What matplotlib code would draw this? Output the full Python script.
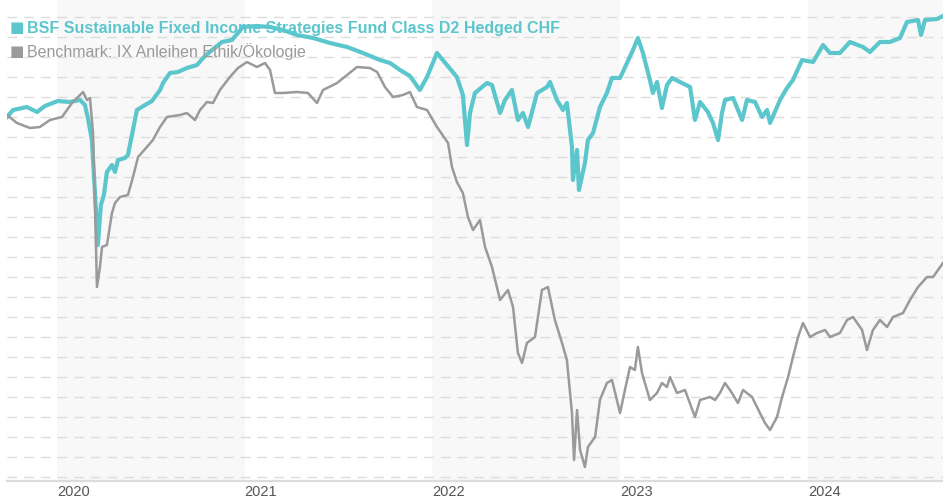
import matplotlib
matplotlib.use("Agg")
import matplotlib.pyplot as plt
from matplotlib.ticker import MultipleLocator

# fund (teal) - decimal year / indexed value
fund_t = [2019.734, 2019.766, 2019.840, 2019.894, 2019.936, 2020.005, 2020.069, 2020.123,
          2020.149, 2020.165, 2020.186, 2020.197, 2020.218, 2020.234, 2020.250, 2020.266,
          2020.293, 2020.309, 2020.325, 2020.362, 2020.378, 2020.405, 2020.426, 2020.469,
          2020.506, 2020.549, 2020.565, 2020.602, 2020.644, 2020.692, 2020.746, 2020.778,
          2020.826, 2020.879, 2020.932, 2020.991, 2021.065, 2021.135, 2021.204, 2021.278,
          2021.364, 2021.454, 2021.545, 2021.630, 2021.720, 2021.774, 2021.827, 2021.880,
          2021.933, 2021.971,
          2022.024, 2022.077, 2022.130, 2022.162, 2022.184, 2022.200, 2022.226, 2022.290,
          2022.317, 2022.360, 2022.386, 2022.423, 2022.455, 2022.482, 2022.509, 2022.557,
          2022.610, 2022.626, 2022.663, 2022.695, 2022.716, 2022.743, 2022.748, 2022.770,
          2022.780, 2022.812, 2022.828, 2022.855, 2022.892, 2022.929, 2022.956, 2022.999,
          2023.036, 2023.068, 2023.094, 2023.121, 2023.158, 2023.174, 2023.196, 2023.222,
          2023.249, 2023.276, 2023.318, 2023.372, 2023.398, 2023.425, 2023.467, 2023.494,
          2023.521, 2023.542, 2023.558, 2023.601, 2023.649, 2023.675, 2023.718, 2023.755,
          2023.782, 2023.798, 2023.851, 2023.888, 2023.920, 2023.968, 2024.027, 2024.080,
          2024.117, 2024.170, 2024.223, 2024.293, 2024.330, 2024.383, 2024.437, 2024.490,
          2024.527, 2024.586, 2024.602, 2024.623, 2024.687, 2024.719]
fund_v = [94.99, 95.34, 95.49, 95.24, 95.54, 95.79, 95.74, 95.84,
          95.59, 94.94, 93.84, 92.09, 88.59, 90.59, 91.09, 92.24,
          92.59, 92.24, 92.84, 92.94, 93.09, 94.34, 95.34, 95.59,
          95.79, 96.34, 96.69, 97.19, 97.24, 97.44, 97.59, 97.94,
          98.34, 98.74, 98.84, 99.49, 99.54, 99.49, 99.34, 99.09,
          98.94, 98.69, 98.49, 98.19, 97.84, 97.69, 97.34, 97.04,
          96.34, 96.99,
          98.19, 97.59, 96.99, 96.09, 93.59, 95.19, 96.19, 96.69,
          96.59, 95.19, 95.84, 96.34, 94.84, 95.19, 94.49, 96.19,
          96.49, 96.74, 95.84, 95.34, 95.69, 93.49, 91.84, 93.34,
          91.34, 92.69, 93.84, 94.19, 95.49, 96.19, 96.94, 96.94,
          97.69, 98.34, 98.94, 98.19, 96.84, 96.19, 96.74, 95.44,
          96.59, 96.94, 96.74, 96.49, 94.84, 95.74, 95.24, 94.69,
          93.84, 95.19, 95.84, 95.94, 94.84, 95.84, 95.74, 94.99,
          95.34, 94.69, 95.84, 96.44, 96.84, 97.84, 97.74, 98.59,
          98.19, 98.19, 98.74, 98.49, 98.24, 98.74, 98.74, 98.94,
          99.74, 99.84, 99.09, 99.84, 99.89, 100.04]

# benchmark (grey)
bench_t = [2019.734, 2019.787, 2019.856, 2019.909, 2019.963, 2020.027, 2020.080, 2020.139,
           2020.160, 2020.176, 2020.192, 2020.202, 2020.213, 2020.229, 2020.240, 2020.266,
           2020.293, 2020.309, 2020.336, 2020.378, 2020.405, 2020.432, 2020.479, 2020.511,
           2020.549, 2020.586, 2020.655, 2020.692, 2020.735, 2020.762, 2020.799, 2020.831,
           2020.868, 2020.921, 2020.964, 2021.012, 2021.065, 2021.108, 2021.135, 2021.161,
           2021.204, 2021.278, 2021.337, 2021.385, 2021.417, 2021.492, 2021.545, 2021.598,
           2021.667, 2021.705, 2021.747, 2021.790, 2021.843, 2021.880, 2021.917, 2021.971,
           2022.024, 2022.083, 2022.104, 2022.130, 2022.162, 2022.189, 2022.216, 2022.253,
           2022.280, 2022.317, 2022.360, 2022.402, 2022.429, 2022.455, 2022.477, 2022.503,
           2022.546, 2022.583, 2022.615, 2022.652, 2022.690, 2022.716, 2022.743, 2022.754,
           2022.770, 2022.786, 2022.812, 2022.828, 2022.866, 2022.892, 2022.929, 2022.956,
           2022.999, 2023.025, 2023.052, 2023.078, 2023.094, 2023.116, 2023.158, 2023.196,
           2023.222, 2023.249, 2023.265, 2023.302, 2023.345, 2023.398, 2023.425, 2023.478,
           2023.505, 2023.531, 2023.558, 2023.595, 2023.627, 2023.654, 2023.702, 2023.744,
           2023.771, 2023.798, 2023.835, 2023.862, 2023.894, 2023.920, 2023.947, 2023.973,
           2024.011, 2024.048, 2024.091, 2024.117, 2024.170, 2024.208, 2024.240, 2024.288,
           2024.314, 2024.346, 2024.383, 2024.421, 2024.453, 2024.506, 2024.543, 2024.586,
           2024.634, 2024.666, 2024.719]
bench_v = [95.09, 94.69, 94.44, 94.49, 94.84, 94.99, 95.69, 96.24,
           95.84, 95.94, 94.19, 90.84, 86.49, 87.49, 88.49, 88.59,
           90.19, 90.69, 90.99, 91.09, 91.99, 92.99, 93.49, 93.84,
           94.49, 94.99, 95.09, 95.19, 94.84, 95.34, 95.74, 95.69,
           96.34, 96.99, 97.44, 97.74, 97.49, 97.69, 97.34, 96.19,
           96.19, 96.24, 96.19, 95.69, 96.34, 96.69, 97.09, 97.49,
           97.44, 97.24, 96.49, 95.99, 96.09, 96.24, 95.49, 95.34,
           94.49, 93.69, 92.49, 91.74, 91.19, 89.99, 89.34, 89.84,
           88.49, 87.49, 85.84, 86.34, 85.49, 83.19, 82.69, 83.69,
           83.99, 86.34, 86.49, 84.84, 83.69, 82.84, 80.19, 77.84,
           80.34, 78.34, 77.49, 78.49, 78.99, 80.84, 81.69, 81.84,
           80.19, 81.34, 82.49, 82.34, 83.49, 82.19, 80.84, 81.19,
           81.69, 81.49, 81.99, 81.19, 81.34, 79.99, 80.84, 80.99,
           80.84, 81.19, 81.69, 81.19, 80.69, 81.34, 80.99, 80.19,
           79.69, 79.34, 79.99, 80.99, 81.99, 82.99, 83.99, 84.69,
           83.99, 84.19, 84.34, 83.99, 84.19, 84.84, 84.99, 84.34,
           83.34, 84.34, 84.84, 84.49, 84.99, 85.19, 85.84, 86.49,
           86.99, 86.99, 87.69]

years = [2020, 2021, 2022, 2023, 2024]
shaded_years = [2020, 2022, 2024]

fund_name = "BSF Sustainable Fixed Income Strategies Fund Class D2 Hedged CHF"
bench_name = "Benchmark: IX Anleihen Ethik/Ökologie"

TEAL = "#5cc6cd"
GREY = "#9a9a9a"

plt.rcParams['font.family'] = ['Liberation Sans', 'DejaVu Sans']

fig = plt.figure(figsize=(9.43, 5.0), dpi=100)
ax = fig.add_axes([7 / 943, 19 / 500, 936 / 943, 481 / 500])

x0, x1 = fund_t[0], fund_t[-1]
ax.set_xlim(x0, x1)
ax.set_ylim(76.79, 100.84)

# alternating year shading
for yr in shaded_years:
    ax.axvspan(yr, min(yr + 1, x1), color="#f8f8f8", zorder=0, lw=0)

ax.yaxis.set_major_locator(MultipleLocator(1))
ax.grid(axis='y', color="#dddddd", linestyle=(0, (7, 5)), linewidth=1.0, zorder=1)
ax.set_axisbelow(True)

ax.plot(fund_t, fund_v, color=TEAL, lw=3.0, zorder=3)
ax.plot(bench_t, bench_v, color=GREY, lw=1.8, zorder=4)

for s in ['top', 'right', 'left']:
    ax.spines[s].set_visible(False)
ax.spines['bottom'].set_color("#dcdcdc")
ax.spines['bottom'].set_linewidth(1.6)

ax.set_yticks(range(77, 101))
ax.tick_params(axis='y', left=False, labelleft=False)
ax.set_xticks(years)
ax.set_xticklabels([str(y) for y in years], fontsize=10.5, color="#555555")
for lbl in ax.get_xticklabels():
    lbl.set_horizontalalignment('left')
ax.tick_params(axis='x', length=0, pad=3)

# legend drawn as text in the top-left corner
fig.text(10 / 943, 1 - 28 / 500, "■", color=TEAL, fontsize=11, va='center',
         family=['DejaVu Sans'], zorder=10)
fig.text(27 / 943, 1 - 28 / 500, fund_name, color=TEAL, fontsize=11.5,
         fontweight='bold', va='center', zorder=10)
fig.text(10 / 943, 1 - 52 / 500, "■", color=GREY, fontsize=11, va='center',
         family=['DejaVu Sans'], zorder=10)
fig.text(27 / 943, 1 - 52 / 500, bench_name, color=GREY, fontsize=11.5,
         va='center', zorder=10)

fig.savefig("out.png", dpi=100)
